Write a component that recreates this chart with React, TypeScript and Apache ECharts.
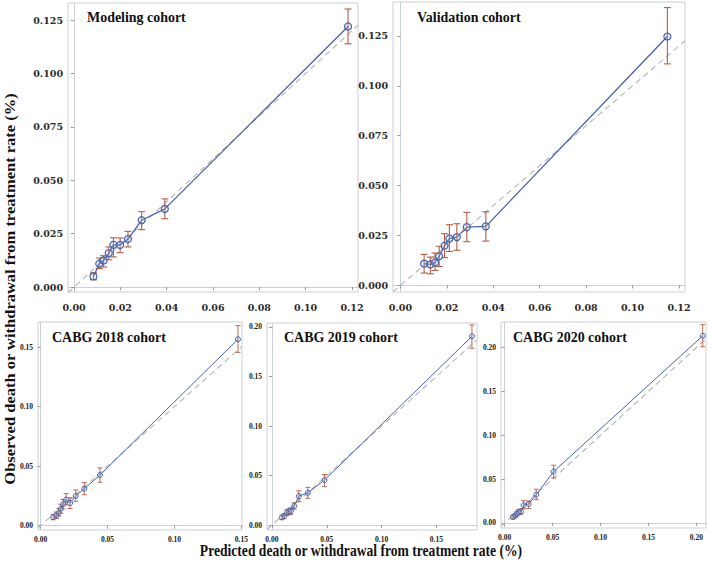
import React, { useEffect, useRef } from "react";
import * as echarts from "echarts";

// ---- Data ----
const modelPred = [0.0084, 0.0109, 0.0128, 0.015, 0.017, 0.0199, 0.0233, 0.0292, 0.0392, 0.1183];
const modelObs = [0.005, 0.0109, 0.0125, 0.0159, 0.0198, 0.0197, 0.0225, 0.0313, 0.0366, 0.122];
const modelLo = [0.0034, 0.0086, 0.0094, 0.0128, 0.0141, 0.0161, 0.0188, 0.0269, 0.032, 0.1139];
const modelHi = [0.0067, 0.0136, 0.0147, 0.0188, 0.0231, 0.023, 0.0261, 0.0353, 0.0413, 0.1302];

const validPred = [0.0102, 0.0129, 0.0149, 0.0167, 0.019, 0.0211, 0.0243, 0.0286, 0.0368, 0.115];
const validObs = [0.0109, 0.0105, 0.0115, 0.0146, 0.0199, 0.0235, 0.0242, 0.0292, 0.0296, 0.1247];
const validLo = [0.0062, 0.0058, 0.0075, 0.0095, 0.0139, 0.017, 0.0176, 0.0219, 0.0222, 0.111];
const validHi = [0.0155, 0.0142, 0.0162, 0.0196, 0.0259, 0.0304, 0.0309, 0.0366, 0.0369, 0.1392];

const c2018Pred = [0.0094, 0.0118, 0.0135, 0.015, 0.0168, 0.019, 0.022, 0.0262, 0.0326, 0.0443, 0.1475];
const c2018Obs = [0.0072, 0.0085, 0.011, 0.0142, 0.018, 0.022, 0.019, 0.025, 0.031, 0.0425, 0.1565];
const c2018Lo = [0.005, 0.006, 0.008, 0.0105, 0.014, 0.0175, 0.0145, 0.0205, 0.026, 0.0365, 0.1455];
const c2018Hi = [0.0095, 0.0115, 0.0145, 0.018, 0.022, 0.027, 0.0235, 0.03, 0.0362, 0.0485, 0.168];

const c2019Pred = [0.0091, 0.0112, 0.0136, 0.0158, 0.0173, 0.0203, 0.0245, 0.0327, 0.0479, 0.1824];
const c2019Obs = [0.0077, 0.0091, 0.0124, 0.0138, 0.0141, 0.0192, 0.0292, 0.0326, 0.0454, 0.1906];
const c2019Lo = [0.0055, 0.0065, 0.0095, 0.0105, 0.0108, 0.016, 0.0235, 0.0269, 0.0387, 0.1785];
const c2019Hi = [0.01, 0.0115, 0.0155, 0.017, 0.0172, 0.0225, 0.0346, 0.038, 0.051, 0.202];

const c2020Pred = [0.0087, 0.0111, 0.0129, 0.0146, 0.017, 0.0198, 0.025, 0.033, 0.0511, 0.2066];
const c2020Obs = [0.0068, 0.0084, 0.0106, 0.0125, 0.0129, 0.0202, 0.0217, 0.0323, 0.0586, 0.2133];
const c2020Lo = [0.0045, 0.006, 0.008, 0.0095, 0.01, 0.016, 0.0165, 0.0266, 0.0513, 0.2008];
const c2020Hi = [0.009, 0.011, 0.0135, 0.0155, 0.016, 0.0255, 0.0251, 0.0384, 0.0658, 0.226];

const topXTicks = [0, 0.02, 0.04, 0.06, 0.08, 0.1, 0.12];
const topYTicks = [0, 0.025, 0.05, 0.075, 0.1, 0.125];
const b18XTicks = [0, 0.05, 0.1, 0.15];
const b18YTicks = [0, 0.05, 0.1, 0.15];
const b19XTicks = [0, 0.05, 0.1, 0.15];
const b19YTicks = [0, 0.05, 0.1, 0.15, 0.2];
const b20XTicks = [0, 0.05, 0.1, 0.15, 0.2];
const b20YTicks = [0, 0.05, 0.1, 0.15, 0.2];

const titles = ["Modeling cohort", "Validation cohort", "CABG 2018 cohort", "CABG 2019 cohort", "CABG 2020 cohort"];
const xAxisTitle = "Predicted death or withdrawal from treatment rate (%)";
const yAxisTitle = "Observed death or withdrawal from treatment rate (%)";

const BLUE = "#4563ab";
const RED = "#b45e43";
const DIAG = "#b5b5b5";
const FRAME = "#c9d1d8";

type Panel = {
  pred: number[]; obs: number[]; lo: number[]; hi: number[];
  grid: { left: number; top: number; width: number; height: number };
  xr: [number, number]; yr: [number, number];
  xt: number[]; yt: number[]; xd: number; yd: number; big: boolean;
  tp: [number, number];
};

const panels: Panel[] = [
  { pred: modelPred, obs: modelObs, lo: modelLo, hi: modelHi, grid: { left: 68, top: 3, width: 290, height: 289 }, xr: [-0.0026, 0.1226], yr: [-0.0023, 0.133], xt: topXTicks, yt: topYTicks, xd: 2, yd: 3, big: true, tp: [87, 17] },
  { pred: validPred, obs: validObs, lo: validLo, hi: validHi, grid: { left: 393, top: 2, width: 292, height: 290 }, xr: [-0.0032, 0.1226], yr: [-0.0033, 0.142], xt: topXTicks, yt: topYTicks, xd: 2, yd: 3, big: true, tp: [417, 17] },
  { pred: c2018Pred, obs: c2018Obs, lo: c2018Lo, hi: c2018Hi, grid: { left: 38, top: 322, width: 204, height: 208 }, xr: [-0.002, 0.1505], yr: [-0.0036, 0.171], xt: b18XTicks, yt: b18YTicks, xd: 2, yd: 2, big: false, tp: [52, 337] },
  { pred: c2019Pred, obs: c2019Obs, lo: c2019Lo, hi: c2019Hi, grid: { left: 267, top: 323, width: 210, height: 207 }, xr: [-0.0045, 0.187], yr: [-0.005, 0.204], xt: b19XTicks, yt: b19YTicks, xd: 2, yd: 2, big: false, tp: [284, 337] },
  { pred: c2020Pred, obs: c2020Obs, lo: c2020Lo, hi: c2020Hi, grid: { left: 501, top: 322, width: 205, height: 206 }, xr: [-0.0038, 0.21], yr: [-0.0057, 0.229], xt: b20XTicks, yt: b20YTicks, xd: 2, yd: 2, big: false, tp: [513, 337] },
];

function buildOption() {
  const grids: any[] = [];
  const xAxes: any[] = [];
  const yAxes: any[] = [];
  const series: any[] = [];
  const graphics: any[] = [];

  panels.forEach((p, i) => {
    grids.push({ ...p.grid, show: true, borderColor: FRAME, borderWidth: 1, backgroundColor: "#fff" });
    const labelFont = p.big
      ? { fontFamily: "DejaVu Serif", fontWeight: "bold", fontSize: 9.5, color: "#2a2a2a" }
      : { fontFamily: "Liberation Serif", fontWeight: "bold", fontSize: 7.5, color: "#1a1a1a" };
    const common = {
      axisLine: { show: true, lineStyle: { color: FRAME, width: 1 } },
      splitLine: { show: false },
    };
    xAxes.push({
      type: "value", gridIndex: i, min: p.xr[0], max: p.xr[1], ...common,
      axisTick: { show: true, length: 3, lineStyle: { color: "#999" }, customValues: p.xt },
      axisLabel: { ...labelFont, margin: p.big ? 10 : 5, customValues: p.xt, formatter: (v: number) => v.toFixed(p.xd) },
    });
    yAxes.push({
      type: "value", gridIndex: i, min: p.yr[0], max: p.yr[1], ...common,
      axisTick: { show: true, length: 3, lineStyle: { color: "#999" }, customValues: p.yt },
      axisLabel: { ...labelFont, margin: 5, customValues: p.yt, formatter: (v: number) => v.toFixed(p.yd) },
    });

    // identity (dashed diagonal)
    series.push({
      type: "line", xAxisIndex: i, yAxisIndex: i, silent: true, symbol: "none", z: 1,
      data: [[p.xr[0], p.xr[0]], [p.xr[1], p.xr[1]]],
      lineStyle: { color: DIAG, width: 1.1, type: [6, 4] },
    });

    // error bars
    const cap = p.big ? 3.5 : 2.5;
    series.push({
      type: "custom", xAxisIndex: i, yAxisIndex: i, z: 2, silent: true,
      encode: { x: 0, y: [1, 2] },
      data: p.pred.map((x, k) => [x, p.lo[k], p.hi[k]]),
      renderItem: (_params: any, api: any) => {
        const x = api.value(0);
        const a = api.coord([x, api.value(1)]);
        const b = api.coord([x, api.value(2)]);
        const st = { stroke: RED, lineWidth: p.big ? 1.1 : 0.9 };
        return {
          type: "group",
          children: [
            { type: "line", shape: { x1: a[0], y1: a[1], x2: b[0], y2: b[1] }, style: st },
            { type: "line", shape: { x1: a[0] - cap, y1: a[1], x2: a[0] + cap, y2: a[1] }, style: st },
            { type: "line", shape: { x1: b[0] - cap, y1: b[1], x2: b[0] + cap, y2: b[1] }, style: st },
          ],
        };
      },
    });

    // observed vs predicted
    series.push({
      type: "line", xAxisIndex: i, yAxisIndex: i, z: 3,
      data: p.pred.map((x, k) => [x, p.obs[k]]),
      symbol: "circle", symbolSize: p.big ? 7 : 5,
      itemStyle: { color: "rgba(180,195,230,0.25)", borderColor: BLUE, borderWidth: p.big ? 1.2 : 1 },
      lineStyle: { color: BLUE, width: p.big ? 1.3 : 1 },
    });

    graphics.push({
      type: "text", x: p.tp[0], y: p.tp[1], scaleX: 0.9,
      style: { text: titles[i], fontFamily: "Liberation Serif", fontWeight: "bold", fontSize: 15.5, fill: "#111", verticalAlign: "middle" },
    });
  });

  graphics.push({
    type: "text", x: 361, y: 550, scaleX: 0.8,
    style: { text: xAxisTitle, fontFamily: "Liberation Serif", fontWeight: "bold", fontSize: 17, fill: "#111", align: "center", verticalAlign: "middle" },
  });
  graphics.push({
    type: "text", x: 10, y: 289, rotation: Math.PI / 2, scaleY: 0.85,
    style: { text: yAxisTitle, fontFamily: "Liberation Serif", fontWeight: "bold", fontSize: 16.5, fill: "#111", align: "center", verticalAlign: "middle" },
  });

  return {
    animation: false,
    backgroundColor: "#fff",
    grid: grids,
    xAxis: xAxes,
    yAxis: yAxes,
    series,
    graphic: graphics,
  };
}

export default function App() {
  const ref = useRef<HTMLDivElement>(null);
  useEffect(() => {
    if (!ref.current) return;
    const chart = echarts.init(ref.current, null, { renderer: "svg" });
    chart.setOption(buildOption() as any);
    return () => chart.dispose();
  }, []);
  return <div ref={ref} style={{ position: "absolute", left: 0, top: 0, width: 709, height: 564 }} />;
}
